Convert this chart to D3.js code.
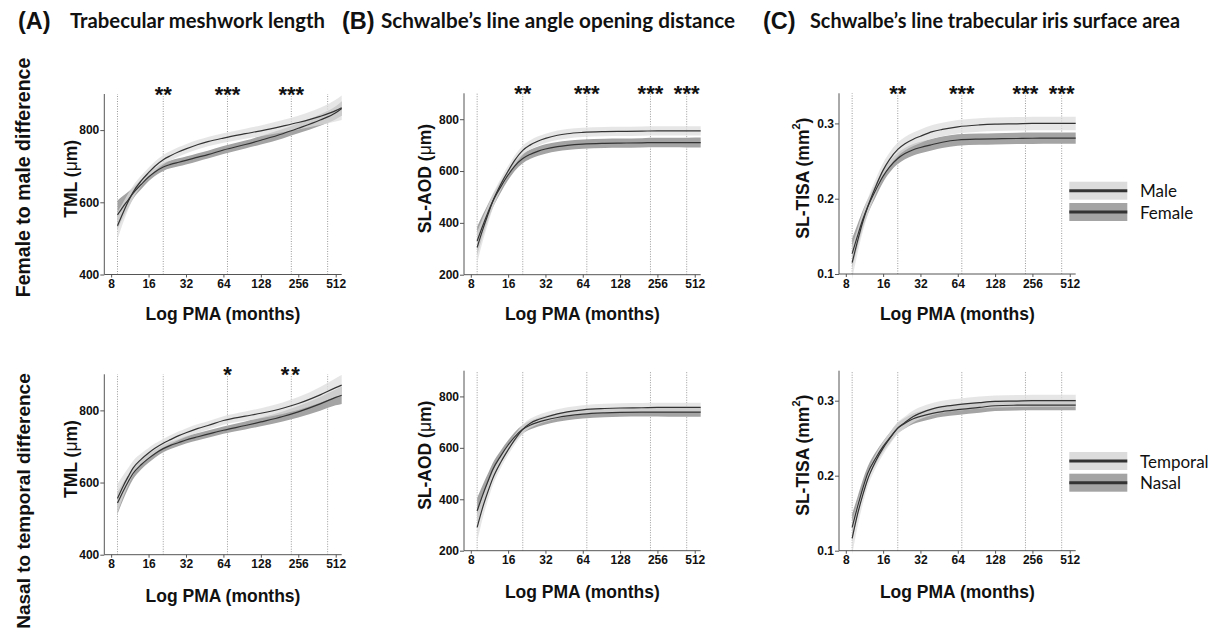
<!DOCTYPE html>
<html><head><meta charset="utf-8">
<script src="https://cdn.jsdelivr.net/npm/d3@7"></script>
<style>
body{margin:0;background:#fff;}
svg{display:block;}
.tick text{font-family:"Liberation Sans",Arial,sans-serif;font-weight:bold;font-size:12px;fill:#111;}
</style></head>
<body>
<script>
// ---------------- DATA ----------------
const pma = [9, 10, 11, 12, 14, 16, 18, 21, 24, 28, 32, 40, 48, 64, 96, 128, 192, 256, 384, 512, 572];
const xTickValues = [8, 16, 32, 64, 128, 256, 512];
const refLines = [9, 21, 69, 225, 441];

// (A) TML - sex
const tmlMale      = [535, 572, 603, 628, 660, 682, 700, 718, 729, 740, 748, 760, 768, 778, 790, 798, 811, 821, 838, 854, 862];
const tmlMaleCI    = [38, 28, 22, 18, 15, 14, 13, 13, 13, 13, 13, 13, 13, 13, 14, 15, 17, 19, 24, 30, 34];
const tmlFemale    = [565, 588, 607, 625, 650, 670, 684, 698, 705, 711, 716, 725, 732, 745, 760, 772, 790, 805, 828, 848, 860];
const tmlFemaleCI  = [40, 30, 22, 16, 13, 12, 11, 11, 11, 11, 11, 11, 11, 11, 11, 12, 13, 14, 16, 18, 20];
// (A) TML - side
const tmlTemporal   = [556, 590, 617, 640, 665, 682, 695, 709, 719, 730, 738, 750, 758, 772, 784, 792, 806, 819, 843, 863, 870];
const tmlTemporalCI = [40, 30, 24, 20, 16, 14, 13, 12, 12, 12, 12, 12, 12, 12, 13, 14, 16, 18, 22, 26, 28];
const tmlNasal      = [543, 576, 603, 625, 650, 667, 680, 694, 703, 711, 718, 727, 734, 745, 758, 768, 783, 796, 818, 836, 842];
const tmlNasalCI    = [30, 24, 19, 16, 13, 12, 11, 10, 10, 10, 10, 10, 10, 10, 11, 12, 14, 16, 19, 22, 24];

// (B) SL-AOD - sex
const aodMale      = [305, 375, 432, 482, 550, 600, 640, 680, 700, 716, 726, 738, 744, 749, 752, 753, 754, 755, 755, 755, 755];
const aodMaleCI    = [60, 45, 35, 28, 22, 20, 19, 18, 18, 18, 18, 18, 18, 18, 18, 18, 18, 18, 18, 18, 18];
const aodFemale    = [330, 390, 440, 482, 540, 585, 618, 648, 664, 677, 685, 694, 699, 704, 707, 708, 709, 710, 710, 710, 710];
const aodFemaleCI  = [55, 42, 32, 26, 22, 20, 19, 18, 18, 18, 18, 18, 18, 18, 18, 18, 18, 18, 18, 19, 19];
// (B) SL-AOD - side
const aodTemporal   = [291, 370, 430, 480, 545, 592, 630, 672, 695, 710, 719, 732, 740, 748, 753, 755, 756, 757, 757, 757, 757];
const aodTemporalCI = [55, 42, 33, 27, 22, 20, 19, 18, 18, 18, 18, 18, 18, 18, 18, 18, 18, 18, 18, 18, 18];
const aodNasal      = [355, 418, 470, 515, 570, 611, 642, 672, 688, 700, 708, 718, 724, 731, 736, 738, 739, 739, 739, 739, 739];
const aodNasalCI    = [50, 38, 30, 25, 21, 19, 18, 17, 17, 17, 17, 17, 17, 17, 17, 17, 17, 17, 18, 18, 18];

// (C) SL-TISA - sex
const tisaMale      = [0.115, 0.145, 0.170, 0.189, 0.217, 0.238, 0.252, 0.2655, 0.273, 0.279, 0.283, 0.289, 0.292, 0.2955, 0.298, 0.299, 0.2995, 0.300, 0.300, 0.300, 0.300];
const tisaMaleCI    = [0.022, 0.016, 0.013, 0.011, 0.010, 0.0095, 0.009, 0.009, 0.009, 0.009, 0.009, 0.009, 0.009, 0.009, 0.009, 0.009, 0.009, 0.009, 0.009, 0.009, 0.009];
const tisaFemale    = [0.127, 0.152, 0.173, 0.189, 0.212, 0.230, 0.242, 0.2535, 0.260, 0.265, 0.268, 0.272, 0.275, 0.278, 0.2792, 0.2796, 0.280, 0.2803, 0.2805, 0.2805, 0.2805];
const tisaFemaleCI  = [0.020, 0.015, 0.012, 0.010, 0.009, 0.008, 0.0075, 0.0075, 0.0075, 0.0075, 0.0075, 0.0075, 0.0075, 0.0075, 0.0075, 0.0075, 0.0075, 0.0075, 0.0075, 0.0075, 0.0075];
// (C) SL-TISA - side
const tisaTemporal   = [0.1165, 0.150, 0.175, 0.195, 0.220, 0.2368, 0.249, 0.2635, 0.271, 0.279, 0.2835, 0.289, 0.292, 0.2947, 0.2975, 0.299, 0.2995, 0.300, 0.300, 0.300, 0.300];
const tisaTemporalCI = [0.022, 0.016, 0.012, 0.010, 0.009, 0.0085, 0.008, 0.008, 0.008, 0.008, 0.008, 0.008, 0.008, 0.008, 0.008, 0.008, 0.008, 0.008, 0.008, 0.008, 0.008];
const tisaNasal      = [0.131, 0.160, 0.184, 0.203, 0.224, 0.239, 0.250, 0.2635, 0.270, 0.276, 0.279, 0.283, 0.2855, 0.288, 0.291, 0.2933, 0.294, 0.2942, 0.2942, 0.2942, 0.2942];
const tisaNasalCI    = [0.018, 0.013, 0.011, 0.009, 0.008, 0.007, 0.007, 0.007, 0.007, 0.007, 0.007, 0.007, 0.007, 0.007, 0.007, 0.007, 0.007, 0.007, 0.007, 0.007, 0.007];

// significance stars
const starsTmlSex  = [{at: 21, label: "**"}, {at: 69, label: "***"}, {at: 225, label: "***"}];
const starsTmlSide = [{at: 69, label: "*"}, {at: 225, label: "**"}];
const starsAodSex  = [{at: 21, label: "**"}, {at: 69, label: "***"}, {at: 225, label: "***"}, {at: 441, label: "***"}];
const starsTisaSex = [{at: 21, label: "**"}, {at: 69, label: "***"}, {at: 225, label: "***"}, {at: 441, label: "***"}];

const panelTitles = ["Trabecular meshwork length", "Schwalbe\u2019s line angle opening distance", "Schwalbe\u2019s line trabecular iris surface area"];
const panelLetters = ["(A)", "(B)", "(C)"];
const rowLabels = ["Female to male difference", "Nasal to temporal difference"];
const legendSex = ["Male", "Female"];
const legendSide = ["Temporal", "Nasal"];
const xTitle = "Log PMA (months)";

// ---------------- DRAW ----------------
const W = 1213, H = 632;
const svg = d3.select("body").append("svg").attr("width", W).attr("height", H);

const LIGHT = "#dcdcdc", DARK = "#a4a4a4", LINE = "#333";
const ARIAL = "'Liberation Sans', Arial, sans-serif";
const CAL = "Lato, 'Open Sans', sans-serif";

const panels = [
  {left:104.3, right:341.7, top:94,   bottom:274.5, yDomain:[400,900], yTicks:[400,600,800], fmt:d3.format("d"), yTitle:"tml", tOff:33,
   s1:[tmlMale, tmlMaleCI], s2:[tmlFemale, tmlFemaleCI], stars:starsTmlSex, row:0},
  {left:464, right:700.7, top:93.3, bottom:274.7, yDomain:[200,900], yTicks:[200,400,600,800], fmt:d3.format("d"), yTitle:"aod", tOff:39,
   s1:[aodMale, aodMaleCI], s2:[aodFemale, aodFemaleCI], stars:starsAodSex, row:0},
  {left:839, right:1075.7, top:93.3, bottom:274, yDomain:[0.1,0.34], yTicks:[0.1,0.2,0.3], fmt:d3.format(".1f"), yTitle:"tisa", tOff:36,
   s1:[tisaMale, tisaMaleCI], s2:[tisaFemale, tisaFemaleCI], stars:starsTisaSex, row:0},
  {left:104.3, right:341.7, top:374.3, bottom:554.7, yDomain:[400,900], yTicks:[400,600,800], fmt:d3.format("d"), yTitle:"tml", tOff:33,
   s1:[tmlTemporal, tmlTemporalCI], s2:[tmlNasal, tmlNasalCI], stars:starsTmlSide, row:1},
  {left:464, right:700.7, top:370.7, bottom:550.7, yDomain:[200,900], yTicks:[200,400,600,800], fmt:d3.format("d"), yTitle:"aod", tOff:39,
   s1:[aodTemporal, aodTemporalCI], s2:[aodNasal, aodNasalCI], stars:[], row:1},
  {left:839, right:1075.7, top:370.7, bottom:550.7, yDomain:[0.1,0.34], yTicks:[0.1,0.2,0.3], fmt:d3.format(".1f"), yTitle:"tisa", tOff:36,
   s1:[tisaTemporal, tisaTemporalCI], s2:[tisaNasal, tisaNasalCI], stars:[], row:1},
];

panels.forEach(p => {
  const g = svg.append("g");
  const x = d3.scaleLog().base(2).domain([7.05, 572]).range([p.left, p.right]);
  const y = d3.scaleLinear().domain(p.yDomain).range([p.bottom, p.top]);

  // reference dotted lines
  g.selectAll("line.ref").data(refLines).join("line")
    .attr("x1", d => x(d)).attr("x2", d => x(d))
    .attr("y1", p.bottom).attr("y2", p.top)
    .attr("stroke", "#9a9a9a").attr("stroke-width", 1).attr("stroke-dasharray", "1,1.5");

  const area = (mean, ci) => d3.area().curve(d3.curveMonotoneX)
    .x((d, i) => x(pma[i])).y0((d, i) => y(mean[i] - ci[i])).y1((d, i) => y(mean[i] + ci[i]));
  const line = (mean) => d3.line().curve(d3.curveMonotoneX).x((d, i) => x(pma[i])).y((d, i) => y(mean[i]));

  g.append("path").datum(pma).attr("d", area(p.s2[0], p.s2[1])).attr("fill", DARK);
  g.append("path").datum(pma).attr("d", area(p.s1[0], p.s1[1])).attr("fill", LIGHT).attr("fill-opacity", 0.72);
  g.append("path").datum(pma).attr("d", line(p.s2[0])).attr("fill", "none").attr("stroke", LINE).attr("stroke-width", 1.2);
  g.append("path").datum(pma).attr("d", line(p.s1[0])).attr("fill", "none").attr("stroke", LINE).attr("stroke-width", 1.2);

  // axes
  const xa = g.append("g").attr("transform", `translate(0,${p.bottom})`)
    .call(d3.axisBottom(x).tickValues(xTickValues).tickFormat(d3.format("d")).tickSize(3).tickPadding(2));
  xa.select(".domain").attr("d", `M${p.left},0H${p.right}`);
  const ya = g.append("g").attr("transform", `translate(${p.left},0)`)
    .call(d3.axisLeft(y).tickValues(p.yTicks).tickFormat(p.fmt).tickSize(4).tickPadding(1));
  ya.select(".domain").attr("d", `M0,${p.bottom}V${p.top}`);
  g.selectAll(".domain").attr("stroke", "#555");
  g.selectAll(".tick line").attr("stroke", "#555");

  // stars
  g.selectAll("text.star").data(p.stars).join("text")
    .attr("x", d => x(d.at)).attr("y", p.top + 7.5)
    .attr("text-anchor", "middle").attr("font-family", ARIAL).attr("font-weight", "bold")
    .attr("font-size", 22).attr("letter-spacing", d => d.label === "**" && p.row === 1 ? 2 : 0)
    .attr("fill", "#111").text(d => d.label);

  // x title
  g.append("text").attr("x", (p.left + p.right) / 2).attr("y", p.bottom + (p.row === 0 ? 45.5 : 47))
    .attr("text-anchor", "middle").attr("font-family", ARIAL).attr("font-weight", "bold")
    .attr("font-size", 17.5).attr("fill", "#111").text(xTitle);

  // y title
  const yt = g.append("text")
    .attr("transform", `translate(${p.left - p.tOff},${(p.top + p.bottom) / 2 - 5.5}) rotate(-90)`)
    .attr("text-anchor", "middle").attr("dominant-baseline", "central")
    .attr("font-family", ARIAL).attr("font-weight", "bold").attr("font-size", 17.5).attr("fill", "#111");
  if (p.yTitle === "tml") { yt.append("tspan").text("TML ("); yt.append("tspan").attr("font-weight", "normal").text("\u03bc"); yt.append("tspan").text("m)"); }
  if (p.yTitle === "aod") { yt.append("tspan").text("SL-AOD ("); yt.append("tspan").attr("font-weight", "normal").text("\u03bc"); yt.append("tspan").text("m)"); }
  if (p.yTitle === "tisa") { yt.append("tspan").text("SL-TISA (mm"); yt.append("tspan").attr("font-size", 11).attr("dy", -7).text("2"); yt.append("tspan").attr("dy", 7).text(")"); }
});

// panel titles
const letterX = [18, 342, 763], titleX = [70, 381, 810], titleW = [255, 354, 370];
panelLetters.forEach((t, i) => {
  svg.append("text").attr("x", letterX[i]).attr("y", 29).attr("font-family", ARIAL).attr("font-weight", "bold")
    .attr("font-size", 23.5).attr("fill", "#111").text(t);
  svg.append("text").attr("x", titleX[i]).attr("y", 28).attr("font-family", CAL).attr("font-weight", "bold")
    .attr("font-size", 20.3).attr("textLength", titleW[i]).attr("lengthAdjust", "spacingAndGlyphs")
    .attr("fill", "#111").text(panelTitles[i]);
});

// row labels
const rowY = [177.5, 501];
const rowFs = [19.5, 19];
rowLabels.forEach((t, i) => {
  svg.append("text").attr("transform", `translate(23,${rowY[i]}) rotate(-90)`)
    .attr("text-anchor", "middle").attr("dominant-baseline", "central")
    .attr("font-family", ARIAL).attr("font-weight", "bold").attr("font-size", rowFs[i]).attr("fill", "#111").text(t);
});

// legends
function legend(labels, cy) {
  const g = svg.append("g");
  const fills = [LIGHT, DARK];
  labels.forEach((lab, i) => {
    const yc = cy[i];
    g.append("rect").attr("x", 1069.3).attr("y", yc - 9).attr("width", 58).attr("height", 18).attr("fill", fills[i]);
    g.append("line").attr("x1", 1069.3).attr("x2", 1127.3).attr("y1", yc).attr("y2", yc).attr("stroke", LINE).attr("stroke-width", 3);
    g.append("text").attr("x", 1140).attr("y", yc).attr("dominant-baseline", "central")
      .attr("font-family", CAL).attr("font-size", 17).attr("fill", "#111").text(lab);
  });
}
legend(legendSex, [190.7, 212]);
legend(legendSide, [461, 482.7]);
</script>
</body></html>
